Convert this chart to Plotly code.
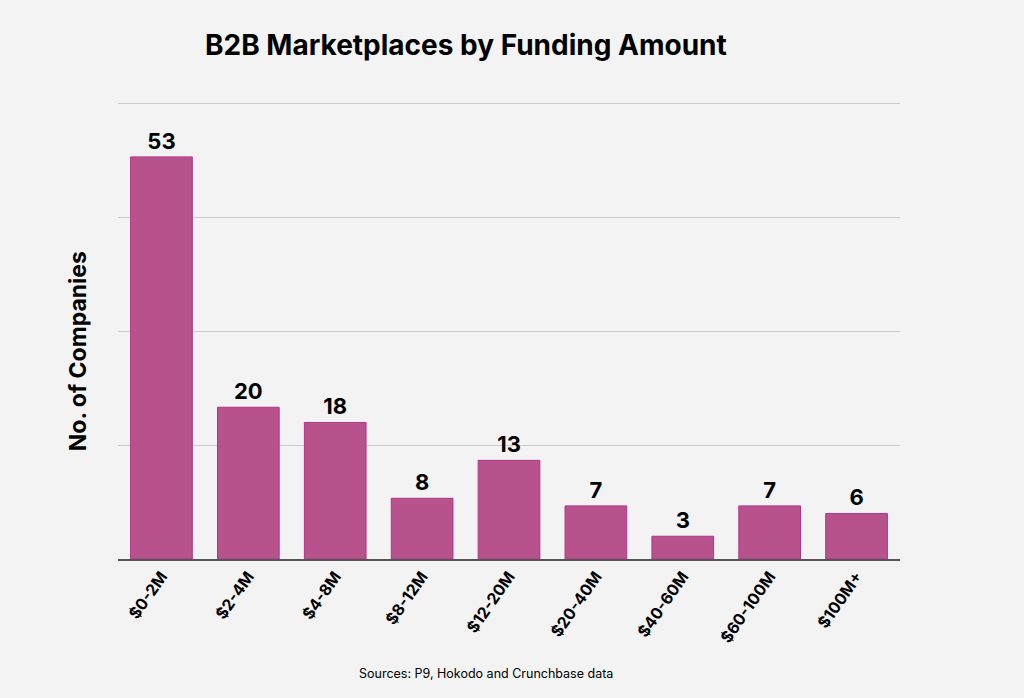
import plotly.graph_objects as go

# Funding buckets and company counts
funding_ranges = ["$0-2M", "$2-4M", "$4-8M", "$8-12M", "$12-20M",
                  "$20-40M", "$40-60M", "$60-100M", "$100M+"]
companies = [53, 20, 18, 8, 13, 7, 3, 7, 6]
grid_ticks = [0, 15, 30, 45, 60]

FONT = "Inter"
BG = "#f3f3f3"

fig = go.Figure()

fig.add_trace(go.Bar(
    x=funding_ranges,
    y=companies,
    text=companies,
    textposition="outside",
    textfont=dict(family=FONT, size=22, color="black", weight="bold"),
    marker=dict(color="#b8528d", line=dict(color="#b0358a", width=1)),
    cliponaxis=False,
))

fig.update_layout(
    width=1024,
    height=698,
    paper_bgcolor=BG,
    plot_bgcolor=BG,
    margin=dict(l=118, r=124, t=100, b=139),
    bargap=0.29,
    showlegend=False,
    title=dict(
        text="B2B Marketplaces by Funding Amount",
        x=0.455, xanchor="center", y=0.935, yanchor="middle",
        font=dict(family=FONT, size=28, color="black", weight="bold"),
    ),
    xaxis=dict(
        tickangle=-55,
        tickfont=dict(family=FONT, size=16, color="black", weight="bold"),
        showline=True, linecolor="#555555", linewidth=1.5,
        showgrid=False, ticks="",
    ),
    yaxis=dict(
        # a little headroom so the 60 gridline is not dropped at the edge
        range=[0, 60.5],
        tickvals=grid_ticks,
        showticklabels=False,
        showgrid=True, gridcolor="#cccccc", gridwidth=1,
        zeroline=False,
    ),
)

fig.add_annotation(
    text="No. of Companies", textangle=-90,
    xref="paper", yref="paper", x=-0.051, y=0.453,
    xanchor="center", yanchor="middle", showarrow=False,
    font=dict(family=FONT, size=23, color="black", weight="bold"),
)

fig.add_annotation(
    text="Sources: P9, Hokodo and Crunchbase data",
    xref="paper", yref="paper", x=0.471, y=-0.25,
    xanchor="center", yanchor="middle", showarrow=False,
    font=dict(family=FONT, size=12.5, color="black"),
)

# drop the default page margin so the figure fills the window
fig.write_html(
    "out.html",
    config={"displayModeBar": False},
    post_script="document.body.style.margin='0';"
                "document.body.style.background='" + BG + "';",
)
